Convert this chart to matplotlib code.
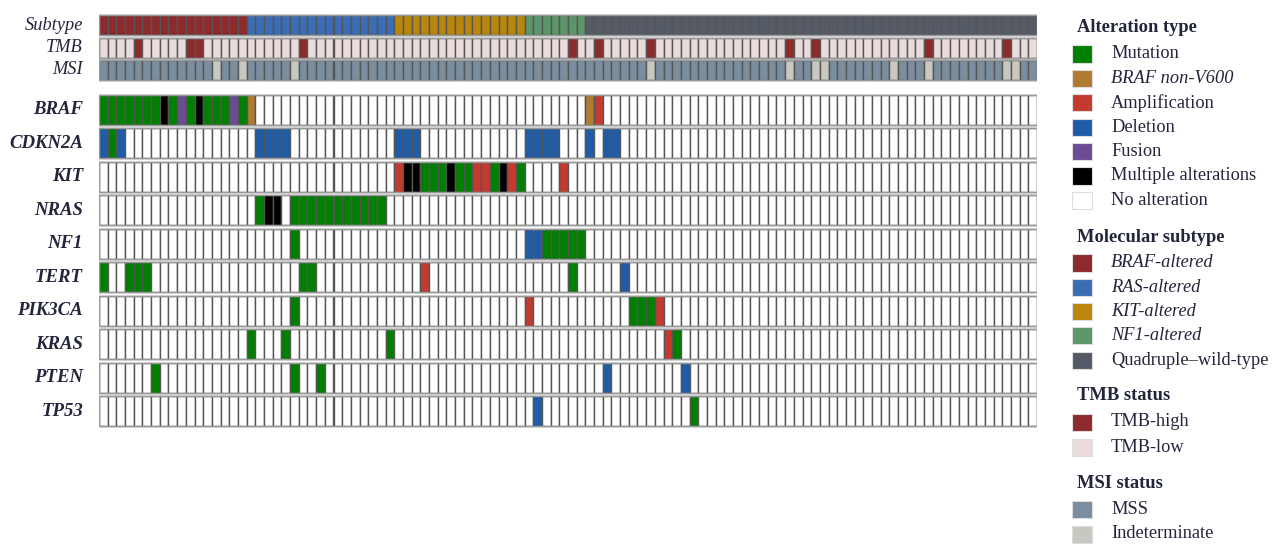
import matplotlib
matplotlib.use("Agg")
import matplotlib.pyplot as plt
from matplotlib.patches import Rectangle

# ---------------- data ----------------
n_samples = 108
genes = ["BRAF", "CDKN2A", "KIT", "NRAS", "NF1", "TERT", "PIK3CA", "KRAS", "PTEN", "TP53"]

# runs of (first column, last column, alteration type)
BRAF_alt = [(0, 6, "Mutation"), (7, 7, "Multiple"), (8, 8, "Mutation"), (9, 9, "Fusion"),
            (10, 10, "Mutation"), (11, 11, "Multiple"), (12, 14, "Mutation"), (15, 15, "Fusion"),
            (16, 16, "Mutation"), (17, 17, "NonV600"), (56, 56, "NonV600"), (57, 57, "Amplification")]
CDKN2A_alt = [(0, 0, "Deletion"), (1, 1, "Mutation"), (2, 2, "Deletion"), (18, 21, "Deletion"),
              (34, 36, "Deletion"), (49, 52, "Deletion"), (56, 56, "Deletion"), (58, 59, "Deletion")]
KIT_alt = [(34, 34, "Amplification"), (35, 36, "Multiple"), (37, 39, "Mutation"), (40, 40, "Multiple"),
           (41, 42, "Mutation"), (43, 44, "Amplification"), (45, 45, "Mutation"), (46, 46, "Multiple"),
           (47, 47, "Amplification"), (48, 48, "Mutation"), (53, 53, "Amplification")]
NRAS_alt = [(18, 18, "Mutation"), (19, 20, "Multiple"), (22, 32, "Mutation")]
NF1_alt = [(22, 22, "Mutation"), (49, 50, "Deletion"), (51, 55, "Mutation")]
TERT_alt = [(0, 0, "Mutation"), (3, 5, "Mutation"), (23, 24, "Mutation"), (37, 37, "Amplification"),
            (54, 54, "Mutation"), (60, 60, "Deletion")]
PIK3CA_alt = [(22, 22, "Mutation"), (49, 49, "Amplification"), (61, 63, "Mutation"), (64, 64, "Amplification")]
KRAS_alt = [(17, 17, "Mutation"), (21, 21, "Mutation"), (33, 33, "Mutation"),
            (65, 65, "Amplification"), (66, 66, "Mutation")]
PTEN_alt = [(6, 6, "Mutation"), (22, 22, "Mutation"), (25, 25, "Mutation"), (58, 58, "Deletion"), (67, 67, "Deletion")]
TP53_alt = [(50, 50, "Deletion"), (68, 68, "Mutation")]
gene_alts = [BRAF_alt, CDKN2A_alt, KIT_alt, NRAS_alt, NF1_alt, TERT_alt, PIK3CA_alt, KRAS_alt, PTEN_alt, TP53_alt]

subtype_names = ["BRAF-altered", "RAS-altered", "KIT-altered", "NF1-altered", "Quadruple–wild-type"]
subtype_counts = [17, 17, 15, 7, 52]
tmb_high_cols = [4, 10, 11, 23, 54, 57, 63, 79, 82, 95, 104]
msi_indet_cols = [13, 16, 22, 63, 79, 82, 83, 91, 95, 104, 105]

alt_labels = ["Mutation", "BRAF non-V600", "Amplification", "Deletion", "Fusion",
              "Multiple alterations", "No alteration"]
alt_keys = ["Mutation", "NonV600", "Amplification", "Deletion", "Fusion", "Multiple", "None"]

# ---------------- styles ----------------
alt_colors = {"Mutation": "#008000", "NonV600": "#b07b30", "Amplification": "#c43a2f",
              "Deletion": "#1f5ca8", "Fusion": "#6a4c93", "Multiple": "#000000", "None": "#ffffff"}
subtype_colors = ["#8c2a2c", "#3a6db5", "#b8860b", "#5b9569", "#555b66"]
tmb_colors = {"high": "#8c2a2c", "low": "#eadcdc"}
msi_colors = {"MSS": "#7a8ea0", "Indeterminate": "#c8c8c0"}
txt = "#23263a"
serif = ["Liberation Serif", "DejaVu Serif"]

W, H = 1281, 551
fig = plt.figure(figsize=(W / 100, H / 100), dpi=100)
fig.patch.set_facecolor("white")

x0, x1 = 99, 1037
y_top, y_bot = 12, 430
ax = fig.add_axes([x0 / W, 1 - y_bot / H, (x1 - x0) / W, (y_bot - y_top) / H])
ax.set_xlim(0, n_samples)
ax.set_ylim(y_bot, y_top)
ax.axis("off")

cell_edge = "#555555"

def draw_row(colors, top, height):
    for i, c in enumerate(colors):
        ax.add_patch(Rectangle((i, top), 1, height, facecolor=c, edgecolor=cell_edge, lw=1.0))
    ax.add_patch(Rectangle((0, top), n_samples, height, facecolor="none", edgecolor="#9a9a9a", lw=1.0))

# annotation rows
subtype_col = []
for c, n in zip(subtype_colors, subtype_counts):
    subtype_col += [c] * n
tmb_col = [tmb_colors["high"] if i in tmb_high_cols else tmb_colors["low"] for i in range(n_samples)]
msi_col = [msi_colors["Indeterminate"] if i in msi_indet_cols else msi_colors["MSS"] for i in range(n_samples)]

ann_rows = [("Subtype", subtype_col, 15), ("TMB", tmb_col, 37.5), ("MSI", msi_col, 59.5)]
for name, cols, top in ann_rows:
    draw_row(cols, top, 20)
    fig.text(83 / W, 1 - (top + 10) / H, name, ha="right", va="center", fontsize=13.2,
             style="italic", family=serif, color=txt)

# gene rows
for gi, (g, alts) in enumerate(zip(genes, gene_alts)):
    top = 95 + 33.45 * gi
    cols = ["#ffffff"] * n_samples
    for a, b, k in alts:
        for i in range(a, b + 1):
            cols[i] = alt_colors[k]
    draw_row(cols, top, 30)
    fig.text(83 / W, 1 - (top + 15) / H, g, ha="right", va="center", fontsize=13.5,
             style="italic", weight="bold", family=serif, color=txt)

# ---------------- legend ----------------
def legend_title(y, s):
    fig.text(1077 / W, 1 - y / H, s, ha="left", va="center", fontsize=13.3,
             weight="bold", family=serif, color=txt)

def legend_item(y, color, label, italic=False):
    fig.patches.append(Rectangle((1072 / W, 1 - (y + 8.5) / H), 20 / W, 17 / H,
                                 transform=fig.transFigure, facecolor=color,
                                 edgecolor="#dddddd", lw=0.8))
    fig.text(1111 / W, 1 - y / H, label, ha="left", va="center", fontsize=13.2,
             style="italic" if italic else "normal", family=serif, color=txt)

legend_title(28, "Alteration type")
for j, (lab, key) in enumerate(zip(alt_labels, alt_keys)):
    legend_item(54 + 24.4 * j, alt_colors[key], lab, italic=(key == "NonV600"))

legend_title(237, "Molecular subtype")
for j, (lab, c) in enumerate(zip(subtype_names, subtype_colors)):
    legend_item(263 + 24.3 * j, c, lab, italic=(j < 4))

legend_title(396, "TMB status")
legend_item(422, tmb_colors["high"], "TMB-high")
legend_item(447, tmb_colors["low"], "TMB-low")

legend_title(483, "MSI status")
legend_item(509, msi_colors["MSS"], "MSS")
legend_item(534, msi_colors["Indeterminate"], "Indeterminate")

fig.savefig("out.png", dpi=100, facecolor="white")
